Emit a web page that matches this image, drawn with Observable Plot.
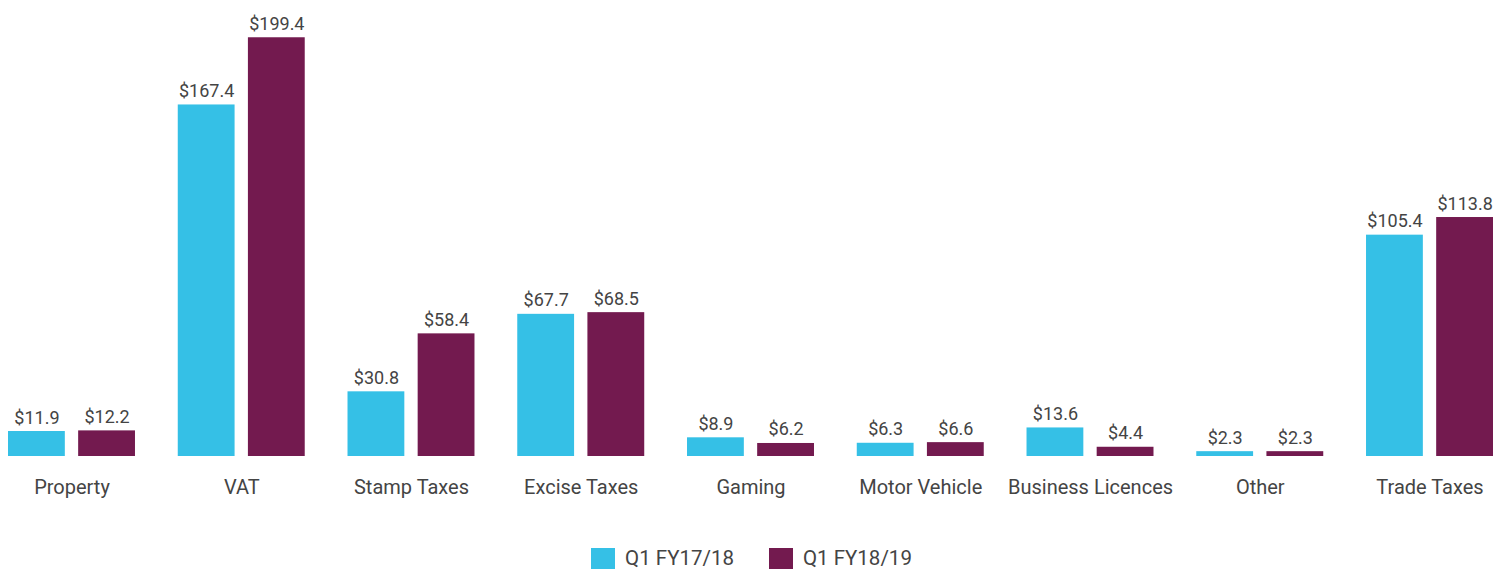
<!DOCTYPE html>
<html>
<head>
<meta charset="utf-8">
<script src="https://cdn.jsdelivr.net/npm/d3@7"></script>
<script src="https://cdn.jsdelivr.net/npm/@observablehq/plot@0.6"></script>
<style>
  html, body { margin: 0; padding: 0; background: #fff; }
  #chart { width: 1495px; }
  .legend { display: flex; justify-content: center; gap: 35px; font-family: Roboto, sans-serif; font-size: 20.5px; color: #444; margin-top: 16px; margin-left: 8px; }
  .legend .item { display: flex; align-items: center; }
  .legend .sw { width: 24px; height: 21px; margin-right: 10px; }
</style>
</head>
<body>
<div id="chart"></div>
<script>
const categories = ["Property", "VAT", "Stamp Taxes", "Excise Taxes", "Gaming", "Motor Vehicle", "Business Licences", "Other", "Trade Taxes"];
const seriesNames = ["Q1 FY17/18", "Q1 FY18/19"];
const q1FY1718 = [11.9, 167.4, 30.8, 67.7, 8.9, 6.3, 13.6, 2.3, 105.4];
const q1FY1819 = [12.2, 199.4, 58.4, 68.5, 6.2, 6.6, 4.4, 2.3, 113.8];
const colors = ["#35C0E6", "#731A4F"];

const data = [];
categories.forEach((c, i) => {
  data.push({category: c, series: seriesNames[0], value: q1FY1718[i]});
  data.push({category: c, series: seriesNames[1], value: q1FY1819[i]});
});

const chart = Plot.plot({
  width: 1495,
  height: 530,
  marginLeft: 8,
  marginRight: 2,
  marginTop: 36,
  marginBottom: 74,
  style: {fontFamily: "Roboto, sans-serif", fontSize: "20px", color: "#444", background: "#fff"},
  fx: {domain: categories, paddingInner: 0.252, paddingOuter: 0, round: false, label: null, tickSize: 0, tickPadding: 23, axis: "bottom"},
  x: {domain: seriesNames, paddingInner: 0.19, paddingOuter: 0, round: false, axis: null},
  y: {domain: [0, 200], axis: null},
  color: {domain: seriesNames, range: colors},
  marks: [
    Plot.barY(data, {fx: "category", x: "series", y: "value", fill: "series"}),
    Plot.text(data, {fx: "category", x: "series", y: "value", text: d => "$" + d.value.toFixed(1), lineAnchor: "bottom", dy: -8, fontSize: 18, fill: "#444"})
  ]
});
document.getElementById("chart").appendChild(chart);

const legend = document.createElement("div");
legend.className = "legend";
seriesNames.forEach((s, i) => {
  const item = document.createElement("div");
  item.className = "item";
  const sw = document.createElement("span");
  sw.className = "sw";
  sw.style.background = colors[i];
  const lab = document.createElement("span");
  lab.textContent = s;
  item.appendChild(sw);
  item.appendChild(lab);
  legend.appendChild(item);
});
document.body.appendChild(legend);
</script>
</body>
</html>
